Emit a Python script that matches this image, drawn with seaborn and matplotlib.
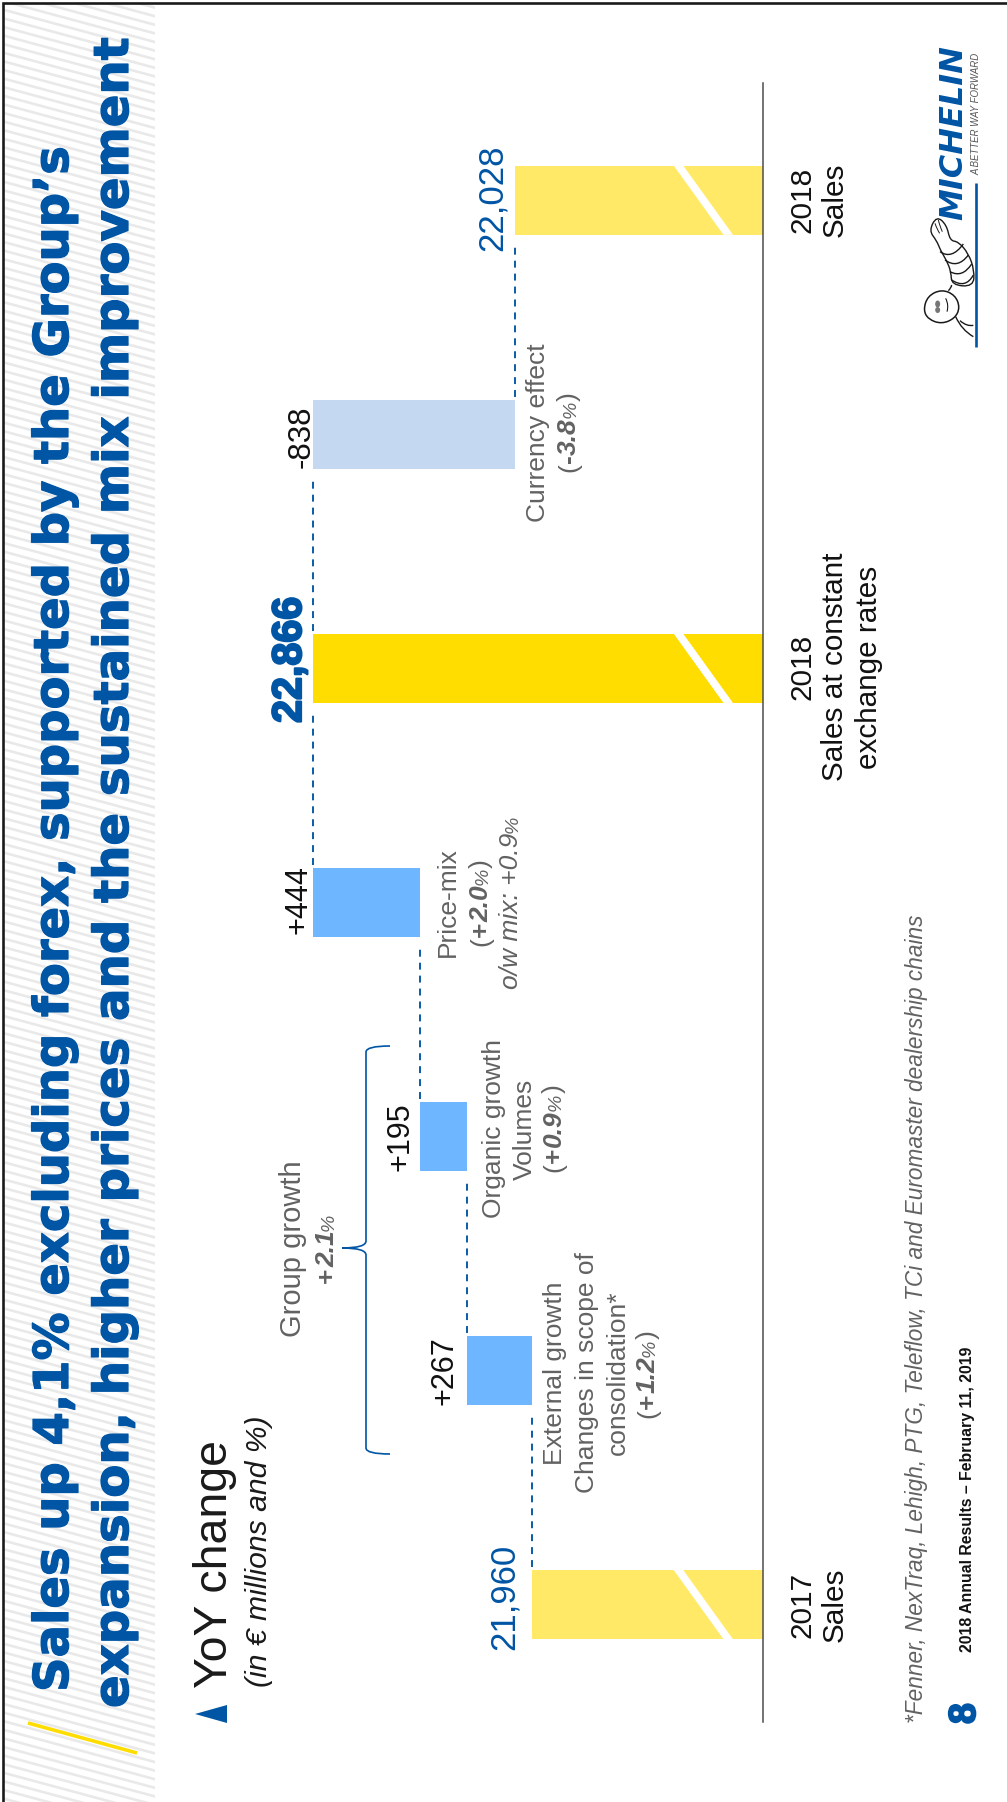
import matplotlib
matplotlib.use("Agg")
import matplotlib.pyplot as plt
import matplotlib.patheffects as pe
from matplotlib.collections import LineCollection
from matplotlib.patches import Ellipse, PathPatch, Polygon, Rectangle
from matplotlib.path import Path
import numpy as np
import pandas as pd
import seaborn as sns

# Sales bridge, in EUR millions, from 2017 sales to 2018 sales
categories = ["2017 Sales", "External growth", "Organic growth", "Price-mix",
              "2018 Sales at constant exchange rates", "Currency effect", "2018 Sales"]
values = [21960, 267, 195, 444, 22866, -838, 22028]
is_total = [True, False, False, False, True, False, True]
value_labels = ["21,960", "+267", "+195", "+444", "22,866", "-838", "22,028"]
AXIS_FLOOR = 21000

BLUE = "#0055A4"
GREY = "#626262"
BAR_COLORS = ["#FFE966", "#6EB6FF", "#6EB6FF", "#6EB6FF", "#FFDD00", "#C5D8F1", "#FFE966"]

sns.set_theme(style="white")
plt.rcParams["font.family"] = ["Liberation Sans", "DejaVu Sans"]

W, H = 1007, 1802
fig = plt.figure(figsize=(W / 100, H / 100), dpi=100, facecolor="white")

# Waterfall geometry: each delta floats on the running total
starts, spans, levels = [], [], []
running = 0
for value, total in zip(values, is_total):
    if total:
        starts.append(AXIS_FLOOR)
        spans.append(value - AXIS_FLOOR)
        running = value
    else:
        starts.append(min(running, running + value))
        spans.append(abs(value))
        running += value
    levels.append(running)
frame = pd.DataFrame({"category": categories, "span": spans})

PX_PER_EUR = 0.2413
BASE_PX = 763.3
TOP_VALUE = 23150
left_px = BASE_PX - (TOP_VALUE - AXIS_FLOOR) * PX_PER_EUR
ax = fig.add_axes([left_px / W, (H - 1721.5) / H, (BASE_PX - left_px) / W, (1721.5 - 83) / H])
ax.patch.set_alpha(0)

sns.barplot(data=frame, x="span", y="category", order=categories, orient="y", width=0.295,
            left=starts, color=BAR_COLORS[0], saturation=1, linewidth=0, ax=ax, zorder=2)
for bar, colour in zip(ax.patches, BAR_COLORS):
    bar.set_facecolor(colour)
    bar.set_edgecolor("none")

ax.set_xlim(TOP_VALUE, AXIS_FLOOR)
ax.set_ylim(-0.5, 6.5)
ax.set(xlabel="", ylabel="", xticks=[], yticks=[])
sns.despine(ax=ax, left=True, bottom=True, top=True, right=False)
ax.spines["right"].set_color("#4d4d4d")
ax.spines["right"].set_linewidth(1.1)


def px_to_value(px):
    return AXIS_FLOOR + (BASE_PX - px) / PX_PER_EUR


# Axis-break slash across the total bars
half = 0.1485
for i, total in enumerate(is_total):
    if total:
        ax.add_patch(Polygon([(px_to_value(673.5), i + half), (px_to_value(683), i + half),
                              (px_to_value(733), i - half), (px_to_value(723.5), i - half)],
                             closed=True, facecolor="white", edgecolor="none", zorder=3))

# Dashed connectors between consecutive bars
for i in range(len(categories) - 1):
    ax.plot([levels[i], levels[i]], [i + half + 0.012, i + 1 - half - 0.03],
            color=BLUE, lw=1.35, linestyle=(0, (3.7, 3.2)), dash_capstyle="butt", zorder=1)

# Pixel-addressed layer for slide furniture and annotations
ov = fig.add_axes([0, 0, 1, 1], facecolor="none")
ov.set_xlim(0, W)
ov.set_ylim(H, 0)
ov.axis("off")

renderer = fig.canvas.get_renderer()


def line(x, y, text, size=19, color=GREY, ha="center", **kw):
    return ov.text(x, y, text, fontsize=size, color=color, rotation=90, rotation_mode="anchor",
                   ha=ha, va="baseline", **kw)


def fitted(x, y_start, length, text, size=20, color=GREY, **kw):
    t = line(x, y_start, text, size=size, color=color, ha="left", **kw)
    t.set_fontsize(size * length / t.get_window_extent(renderer).height)
    return t


def mixed(x, yc, parts):
    """Write several differently styled runs on one rotated baseline, centred on yc."""
    items = [line(x, 0, txt, ha="left", **style) for txt, style in parts]
    lengths = [t.get_window_extent(renderer).height for t in items]
    y = yc + sum(lengths) / 2
    for t, length in zip(items, lengths):
        t.set_y(y)
        y -= length


REG = {}
NUM = dict(weight="bold", style="italic")
PCT = dict(size=14, style="italic")


def pct_line(x, yc, number, paren=True):
    parts = [("(", REG)] if paren else []
    parts += [(number[0], dict(weight="bold")), (number[1:], NUM), ("%", PCT)]
    if paren:
        parts.append((")", REG))
    mixed(x, yc, parts)


# Hatched title band
ys = np.arange(-60, H + 20, 8.6)
stripes = LineCollection([[(0, y), (160, y + 160 * 0.27)] for y in ys],
                         colors="#e9e9e9", linewidths=1.9, zorder=0)
ov.add_collection(stripes)
stripes.set_clip_path(Rectangle((4, 4), 151, H, transform=ov.transData))

# Slide frame, top and left edges only
ov.plot([2.5, 2.5, W], [H, 2.5, 2.5], color="#1a1a1a", lw=1.9, solid_joinstyle="miter", clip_on=False)

# Title
title_style = dict(color=BLUE, weight="bold", family="DejaVu Sans",
                   path_effects=[pe.withStroke(linewidth=0.9, foreground=BLUE)])
fitted(68, 1692, 1546, "Sales up 4,1% excluding forex, supported by the Group\u2019s", **title_style)
fitted(128, 1708, 1671, "expansion, higher prices and the sustained mix improvement", **title_style)
ov.plot([28, 137], [1723, 1753], color="#FFDD00", lw=2.6, solid_capstyle="butt")

# Section heading
ov.add_patch(Polygon([(195, 1714), (227, 1705), (227, 1723)], closed=True, facecolor=BLUE, edgecolor="none"))
line(227, 1688, "YoY change", size=33.4, color="#1a1a1a", ha="left")
line(267, 1687, "(in \u20ac millions and %)", size=21.7, color="#1a1a1a", ha="left", style="italic")

# Value labels
line(514, 1597, value_labels[0], size=25, color=BLUE)
line(453, 1370.5, value_labels[1], size=22, color="#111111")
line(408, 1136.5, value_labels[2], size=22, color="#111111")
line(306, 900, value_labels[3], size=22, color="#111111")
line(301, 660, value_labels[4], size=29.7, color=BLUE, weight="bold",
     path_effects=[pe.withStroke(linewidth=1.6, foreground=BLUE)])
line(309.6, 437, value_labels[5], size=22.5, color="#111111")
line(502, 197.5, value_labels[6], size=25, color=BLUE)

# Category captions under the baseline
for x, yc, text in [(810, 1604.5, "2017"), (843, 1604.5, "Sales"),
                    (810, 200, "2018"), (843, 200, "Sales"),
                    (810, 667, "2018"), (843, 667, "Sales at constant"), (877, 667, "exchange rates")]:
    line(x, yc, text, size=21.4, color="#111111")

# Bar descriptions
line(562, 1373, "External growth")
line(594, 1373, "Changes in scope of")
line(625, 1373, "consolidation*")
pct_line(655, 1374, "+1.2")
line(501, 1128, "Organic growth")
line(532, 1129, "Volumes")
pct_line(561, 1128, "+0.9")
line(455, 902, "Price-mix")
pct_line(488, 902.5, "+2.0")
mixed(518, 902, [("o/w mix: +0.9", dict(style="italic")), ("%", PCT)])
line(544.6, 433, "Currency effect")
pct_line(576, 432, "-3.8")
line(301, 1249, "Group growth", size=21)
pct_line(334, 1248, "+2.1", paren=False)

# Brace over the group-growth bars
brace = Path([(390, 1046), (366, 1046), (366, 1052), (366, 1241), (366, 1248), (342, 1248),
              (366, 1248), (366, 1255), (366, 1448), (366, 1454), (390, 1454)],
             [Path.MOVETO, Path.CURVE3, Path.CURVE3, Path.LINETO, Path.CURVE3, Path.CURVE3,
              Path.CURVE3, Path.CURVE3, Path.LINETO, Path.CURVE3, Path.CURVE3])
ov.add_patch(PathPatch(brace, facecolor="none", edgecolor=BLUE, lw=1.2))

# Footer
fitted(923, 1723, 807, "*Fenner, NexTraq, Lehigh, PTG, Teleflow, TCi and Euromaster dealership chains",
       style="italic")
line(975, 1724, "8", size=27, color=BLUE, ha="left", weight="bold",
     path_effects=[pe.withStroke(linewidth=1.4, foreground=BLUE)])
fitted(972, 1652, 305, "2018 Annual Results \u2013 February 11, 2019", color="#111111", weight="bold")

# Logo: wordmark, strapline, rule and mascot
fitted(962, 220, 175, "MICHELIN", color=BLUE, weight="bold", style="italic", family="DejaVu Sans")
fitted(979, 175, 123, "A BETTER WAY FORWARD", color="#555555", style="italic")
ov.plot([975.5, 975.5], [183, 347], color=BLUE, lw=1.9, solid_capstyle="butt")


def z(px, py):
    return 905 + px / 3, 170 + py / 3


def sketch(points, closed=False, fill=None, lw=1.0):
    """Freehand outline: quadratic curves through the midpoints of the control polygon."""
    pts = [z(*p) for p in points]
    if closed:
        pts = pts + pts[:2]
        start = ((pts[0][0] + pts[1][0]) / 2, (pts[0][1] + pts[1][1]) / 2)
        inner = pts[1:]
    else:
        start = pts[0]
        inner = pts[1:]
    verts, codes = [start], [Path.MOVETO]
    for a, b in zip(inner[:-1], inner[1:]):
        end = b if (not closed and b == inner[-1]) else ((a[0] + b[0]) / 2, (a[1] + b[1]) / 2)
        verts += [a, end]
        codes += [Path.CURVE3, Path.CURVE3]
    if len(inner) == 1:
        verts.append(inner[0])
        codes.append(Path.LINETO)
    ov.add_patch(PathPatch(Path(verts, codes), facecolor=fill or "none",
                           edgecolor="#1a1a1a", lw=lw))


# Raised hand and ringed arm
sketch([(95, 138), (72, 182), (95, 212), (106, 240), (125, 272), (138, 305), (140, 345),
        (205, 350), (208, 300), (190, 250), (160, 215), (135, 212), (125, 165)], closed=True, fill="white")
for ring in [[(105, 245), (140, 270), (175, 222)], [(120, 270), (158, 298), (190, 255)],
             [(135, 305), (172, 325), (200, 282)], [(140, 330), (182, 358), (205, 315)]]:
    sketch(ring)
sketch([(100, 150), (105, 170), (112, 185)], lw=0.7)
sketch([(90, 160), (96, 178), (104, 190)], lw=0.7)
# Head and face
sketch([(55, 420), (68, 378), (110, 358), (150, 375), (165, 412), (150, 445), (110, 462), (70, 448)],
       closed=True, fill="white", lw=1.1)
ov.add_patch(Ellipse(z(98, 402), 5, 7, facecolor="#777777", edgecolor="none"))
ov.add_patch(Ellipse(z(98, 420), 5, 6, facecolor="#777777", edgecolor="none"))
sketch([(122, 385), (132, 405), (126, 425)], lw=0.8)
# Shoulder and lower arm resting on the rule
sketch([(140, 345), (138, 355), (130, 362)])
sketch([(152, 440), (170, 480), (205, 500)])
sketch([(165, 452), (185, 470), (205, 466)])

fig.savefig("out.png", dpi=100, facecolor="white")
